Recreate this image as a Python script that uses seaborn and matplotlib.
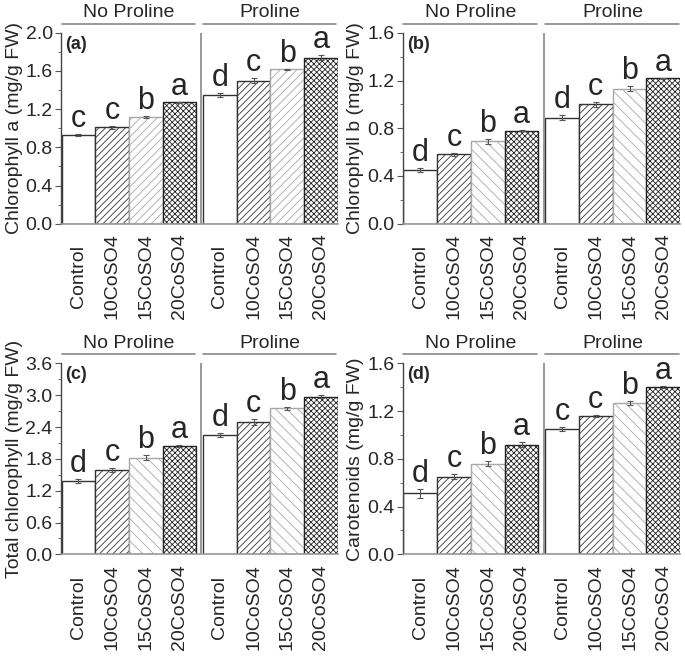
import numpy as np
import pandas as pd
import matplotlib
matplotlib.use('Agg')
import matplotlib.pyplot as plt
import matplotlib.transforms as mtransforms
from matplotlib.ticker import MultipleLocator
import seaborn as sns

# treatments and groups
treatments = ['Control', '10CoSO4', '15CoSO4', '20CoSO4']
groups = ['No Proline', 'Proline']

# values (No Proline x4, then Proline x4)
chl_a = [0.93, 1.01, 1.12, 1.27, 1.35, 1.50, 1.62, 1.74]
chl_a_err = [0.01, 0.015, 0.01, 0.01, 0.02, 0.03, 0.005, 0.03]
chl_a_let = ['c', 'c', 'b', 'a', 'd', 'c', 'b', 'a']

chl_b = [0.45, 0.58, 0.69, 0.78, 0.89, 1.00, 1.13, 1.22]
chl_b_err = [0.02, 0.01, 0.02, 0.005, 0.02, 0.02, 0.02, 0.005]
chl_b_let = ['d', 'c', 'b', 'a', 'd', 'c', 'b', 'a']

chl_tot = [1.38, 1.59, 1.82, 2.05, 2.25, 2.50, 2.75, 2.97]
chl_tot_err = [0.04, 0.03, 0.05, 0.02, 0.03, 0.06, 0.03, 0.03]
chl_tot_let = ['d', 'c', 'b', 'a', 'd', 'c', 'b', 'a']

carot = [0.51, 0.65, 0.76, 0.92, 1.05, 1.16, 1.27, 1.40]
carot_err = [0.04, 0.02, 0.02, 0.02, 0.02, 0.01, 0.015, 0.01]
carot_let = ['d', 'c', 'b', 'a', 'c', 'c', 'b', 'a']

sns.set_style('ticks')
plt.rcParams['font.family'] = ['Liberation Sans', 'DejaVu Sans']
plt.rcParams['hatch.linewidth'] = 0.6

fig = plt.figure(figsize=(6.85, 6.56), dpi=100)

# panel placement in figure fraction
boxes = {
    'a': [0.089, 0.659, 0.404, 0.291],
    'b': [0.588, 0.659, 0.405, 0.291],
    'c': [0.089, 0.155, 0.404, 0.291],
    'd': [0.588, 0.155, 0.405, 0.291],
}

panels = [
    ('a', chl_a, chl_a_err, chl_a_let, 'Chlorophyll a (mg/g FW)', 2.0, 0.4, '////'),
    ('b', chl_b, chl_b_err, chl_b_let, 'Chlorophyll b (mg/g FW)', 1.6, 0.4, '\\\\\\'),
    ('c', chl_tot, chl_tot_err, chl_tot_let, 'Total chlorophyll (mg/g FW)', 3.6, 0.6, '\\\\\\'),
    ('d', carot, carot_err, carot_let, 'Carotenoids (mg/g FW)', 1.6, 0.4, '\\\\\\'),
]

gap = 0.2
pos = [i for i in range(4)] + [i + 4 + gap for i in range(4)]
labels = treatments + treatments

for key, vals, errs, lets, ylab, ymax, step, h15 in panels:
    ax = fig.add_axes(boxes[key])
    df = pd.DataFrame({'x': pos, 'y': vals})
    sns.barplot(data=df, x='x', y='y', native_scale=True, width=1,
                color='white', edgecolor='#333333', linewidth=1,
                errorbar=None, ax=ax)

    hatches = ['', '/////', h15, 'xxxxxx']
    edges = ['#333333', '#333333', '#a8a8a8', '#222222']
    for i, p in enumerate(ax.patches):
        p.set_facecolor('white')
        p.set_hatch(hatches[i % 4])
        p.set_edgecolor(edges[i % 4])

    ax.errorbar(pos, vals, yerr=errs, fmt='none', ecolor='#555555',
                elinewidth=0.8, capsize=2, capthick=0.8)

    for x, v, e, l in zip(pos, vals, errs, lets):
        ax.annotate(l, (x, v + e), xytext=(0, 0), textcoords='offset points',
                    ha='center', va='bottom', fontsize=22)

    ax.set_xlim(-0.52, 7.7)
    ax.set_ylim(0, ymax)
    ax.yaxis.set_minor_locator(MultipleLocator(step / 2))
    ticks = np.arange(0, ymax + step / 2, step)
    ax.set_yticks(ticks)
    ax.set_yticklabels([f'{t:.1f}' for t in ticks], fontsize=14)
    ax.set_xticks(pos)
    ax.set_xticklabels(labels, rotation=90, fontsize=14, va='center')
    ax.tick_params(axis='x', length=0, pad=38)
    ax.tick_params(axis='y', which='major', length=4, color='#555555', pad=2)
    ax.tick_params(axis='y', which='minor', length=2, color='#555555')
    ax.set_xlabel('')
    ax.set_ylabel(ylab, fontsize=14, labelpad=2)

    sns.despine(ax=ax)
    ax.spines['left'].set_color('#444444')
    ax.spines['bottom'].set_color('#999999')
    ax.spines['left'].set_linewidth(1.0)
    ax.spines['bottom'].set_linewidth(1.2)

    # separator between groups
    ax.axvline(3.5 + gap - 0.05, color='#888888', lw=1.2)

    # group headers
    trans = mtransforms.blended_transform_factory(ax.transData, ax.transAxes)
    for g, (x0, x1) in zip(groups, [(pos[0], pos[3]), (pos[4], pos[7])]):
        ax.plot([x0 - 0.5, x1 + 0.45], [1.047, 1.047], transform=trans,
                color='#888888', lw=1.2, clip_on=False)
        ax.text((x0 + x1) / 2, 1.082, g, transform=trans, ha='center',
                va='baseline', fontsize=14)

    ax.text(0.015, 0.94, f'({key})', transform=ax.transAxes, fontsize=13,
            fontweight='bold', ha='left', va='center')

fig.savefig('out.png', dpi=100)
